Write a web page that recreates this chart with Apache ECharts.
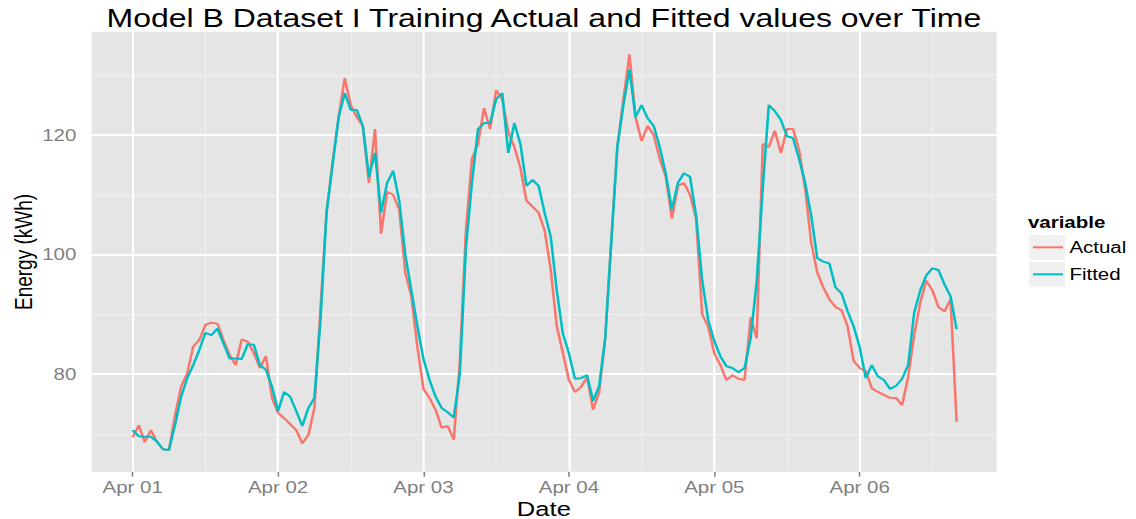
<!DOCTYPE html>
<html>
<head>
<meta charset="utf-8">
<script src="https://cdn.jsdelivr.net/npm/echarts@6/dist/echarts.min.js"></script>
<style>
html, body { margin: 0; padding: 0; background: #ffffff; overflow: hidden; }
#wrap { width: 1136px; height: 519px; overflow: hidden; }
#chart { width: 887.5px; height: 519px; transform: scaleX(1.28); transform-origin: 0 0; }
</style>
</head>
<body>
<div id="wrap"><div id="chart"></div></div>
<script>
// Hourly observations starting Apr 01 00:00 (x = hours since Apr 01 00:00)
const actual = [
  69.4, 71.4, 68.6, 70.6, 68.7, 67.4, 67.3, 73.1, 77.9, 80.1,
  84.6, 85.7, 88.2, 88.6, 88.4, 85.7, 83.2, 81.5, 85.8, 85.4,
  83.5, 81.0, 83.0, 76.0, 73.5, 72.6, 71.6, 70.6, 68.4, 69.8,
  74.3, 91.0, 107.0, 115.5, 123.0, 129.5, 125.0, 123.0, 121.5, 112.0,
  121.0, 103.5, 110.5, 110.0, 107.5, 97.0, 93.0, 84.5, 77.5, 76.0,
  74.0, 71.0, 71.3, 69.0, 82.0, 104.0, 116.0, 118.5, 124.5, 121.0,
  127.5, 126.0, 120.5, 118.0, 114.5, 109.0, 108.0, 107.0, 104.0, 97.5,
  88.0, 83.6, 79.0, 77.0, 77.8, 79.5, 74.0, 77.0, 86.0, 102.4,
  118.0, 126.0, 133.5, 123.0, 119.0, 121.5, 120.0, 116.0, 113.0, 106.0,
  111.5, 112.0, 110.0, 106.0, 90.0, 87.9, 83.5, 81.5, 79.0, 79.8,
  79.2, 79.0, 89.5, 86.0, 118.5, 118.0, 120.7, 117.0, 121.0, 121.0,
  117.5, 111.0, 102.0, 97.0, 94.5, 92.5, 91.2, 90.7, 88.0, 82.2,
  81.0, 80.5, 77.6, 77.0, 76.5, 76.0, 76.0, 74.8, 79.5, 86.5,
  92.0, 95.6, 94.0, 91.2, 90.5, 92.5, 72.0
];
const fitted = [
  70.6, 69.6, 69.5, 69.5, 68.7, 67.4, 67.3, 71.5, 76.2, 79.3,
  81.5, 84.0, 86.9, 86.5, 87.6, 85.1, 82.6, 82.6, 82.5, 85.0,
  84.9, 81.5, 80.7, 77.9, 73.8, 77.0, 76.2, 73.8, 71.3, 74.3,
  76.0, 89.0, 107.0, 115.0, 123.0, 127.0, 124.2, 124.2, 121.5, 113.0,
  117.0, 107.0, 112.0, 114.0, 109.0, 100.0, 94.0, 88.0, 82.5, 79.0,
  76.2, 74.3, 73.6, 72.7, 80.0, 101.0, 112.0, 121.0, 122.0, 122.0,
  126.0, 127.0, 117.0, 122.0, 118.5, 111.5, 112.5, 111.5, 107.0, 103.0,
  94.0, 86.8, 83.5, 79.2, 79.3, 79.8, 75.5, 78.0, 86.0, 102.0,
  118.0, 125.0, 131.0, 123.0, 125.0, 122.8, 121.5, 118.0, 113.5, 107.5,
  112.0, 113.6, 113.0, 106.5, 95.7, 89.0, 85.5, 83.0, 81.3, 81.0,
  80.3, 81.0, 86.0, 95.5, 111.0, 125.0, 124.0, 122.5, 119.8, 119.5,
  116.0, 112.0, 106.5, 99.4, 98.8, 98.5, 94.5, 93.5, 90.5, 88.0,
  84.5, 79.3, 81.5, 79.6, 79.0, 77.5, 78.0, 79.2, 81.5, 90.3,
  94.0, 96.5, 97.7, 97.4, 95.0, 93.0, 87.5
];
const dayTicks = [0, 24, 48, 72, 96, 120];
const dayLabels = ['Apr 01', 'Apr 02', 'Apr 03', 'Apr 04', 'Apr 05', 'Apr 06'];
const xMinor = [12, 36, 60, 84, 108, 132];
const yTicks = [80, 100, 120];
const yMinor = [70, 90, 110, 130];
const seriesNames = ['Actual', 'Fitted'];
const seriesColors = ['#F8766D', '#00BFC4'];

const FONT = '"Liberation Sans", Arial, sans-serif';
const chart = echarts.init(document.getElementById('chart'), null, { renderer: 'svg' });

const gridMarks = []
  .concat(xMinor.map(v => ({ xAxis: v, lineStyle: { color: '#F2F2F2', width: 0.8, type: 'solid' } })))
  .concat(yMinor.map(v => ({ yAxis: v, lineStyle: { color: '#F2F2F2', width: 1, type: 'solid' } })))
  .concat(dayTicks.map(v => ({ xAxis: v, lineStyle: { color: '#FFFFFF', width: 1.6, type: 'solid' } })))
  .concat(yTicks.map(v => ({ yAxis: v, lineStyle: { color: '#FFFFFF', width: 2, type: 'solid' } })));

chart.setOption({
  animation: false,
  backgroundColor: '#ffffff',
  textStyle: { fontFamily: FONT },
  grid: {
    left: 71.6, right: 109.4, top: 31.7, bottom: 47.3,
    show: true, backgroundColor: '#E5E5E5', borderWidth: 0
  },
  xAxis: {
    type: 'value', min: -6.77, max: 142.6,
    axisLine: { show: false },
    splitLine: { show: false },
    axisTick: { show: true, customValues: dayTicks, length: 5, lineStyle: { color: '#7F7F7F', width: 1.2 } },
    axisLabel: {
      customValues: dayTicks, margin: 8, color: '#7F7F7F', fontSize: 16, fontFamily: FONT,
      formatter: v => dayLabels[dayTicks.indexOf(v)] || ''
    }
  },
  yAxis: {
    type: 'value', min: 63.65, max: 137.29,
    axisLine: { show: false },
    splitLine: { show: false },
    axisTick: { show: true, customValues: yTicks, length: 7, lineStyle: { color: '#7F7F7F', width: 1.5 } },
    axisLabel: { customValues: yTicks, margin: 12, color: '#7F7F7F', fontSize: 16, fontFamily: FONT }
  },
  legend: {
    data: seriesNames.map(n => ({ name: n, icon: 'rect' })),
    orient: 'vertical', left: 807, top: 239.3, padding: 0,
    itemWidth: 23.5, itemHeight: 2, itemGap: 11,
    textStyle: { fontSize: 16, lineHeight: 16, color: '#000', fontFamily: FONT },
    selectedMode: false
  },
  graphic: [
    { type: 'rect', shape: { x: 803.9, y: 235, width: 28.1, height: 25 }, style: { fill: '#F0F0F0' }, silent: true },
    { type: 'rect', shape: { x: 803.9, y: 261.7, width: 28.1, height: 25 }, style: { fill: '#F0F0F0' }, silent: true },
    { type: 'text', x: 803.1, y: 222.2, silent: true,
      style: { text: 'variable', font: 'bold 16px ' + FONT, fill: '#000', textAlign: 'left', textVerticalAlign: 'middle' } },
    { type: 'text', x: 424.9, y: 18.6, silent: true,
      style: { text: 'Model B Dataset I Training Actual and Fitted values over Time', font: '25px ' + FONT, fill: '#000', textAlign: 'center', textVerticalAlign: 'middle' } },
    { type: 'text', x: 424.9, y: 508.8, silent: true,
      style: { text: 'Date', font: '20px ' + FONT, fill: '#000', textAlign: 'center', textVerticalAlign: 'middle' } },
    { type: 'text', x: 18.75, y: 252, rotation: Math.PI / 2, silent: true,
      style: { text: 'Energy (kWh)', font: '19px ' + FONT, fill: '#000', textAlign: 'center', textVerticalAlign: 'middle' } }
  ],
  series: [
    {
      type: 'line', name: '_grid', data: [], z: 1, silent: true,
      markLine: { z: 1, silent: true, symbol: ['none', 'none'], label: { show: false }, animation: false, data: gridMarks }
    },
    {
      type: 'line', name: seriesNames[0], data: actual.map((v, i) => [i, v]),
      showSymbol: false, symbol: 'none', z: 10, color: seriesColors[0],
      lineStyle: { color: seriesColors[0], width: 2 }
    },
    {
      type: 'line', name: seriesNames[1], data: fitted.map((v, i) => [i, v]),
      showSymbol: false, symbol: 'none', z: 11, color: seriesColors[1],
      lineStyle: { color: seriesColors[1], width: 2 }
    }
  ]
});
</script>
</body>
</html>
